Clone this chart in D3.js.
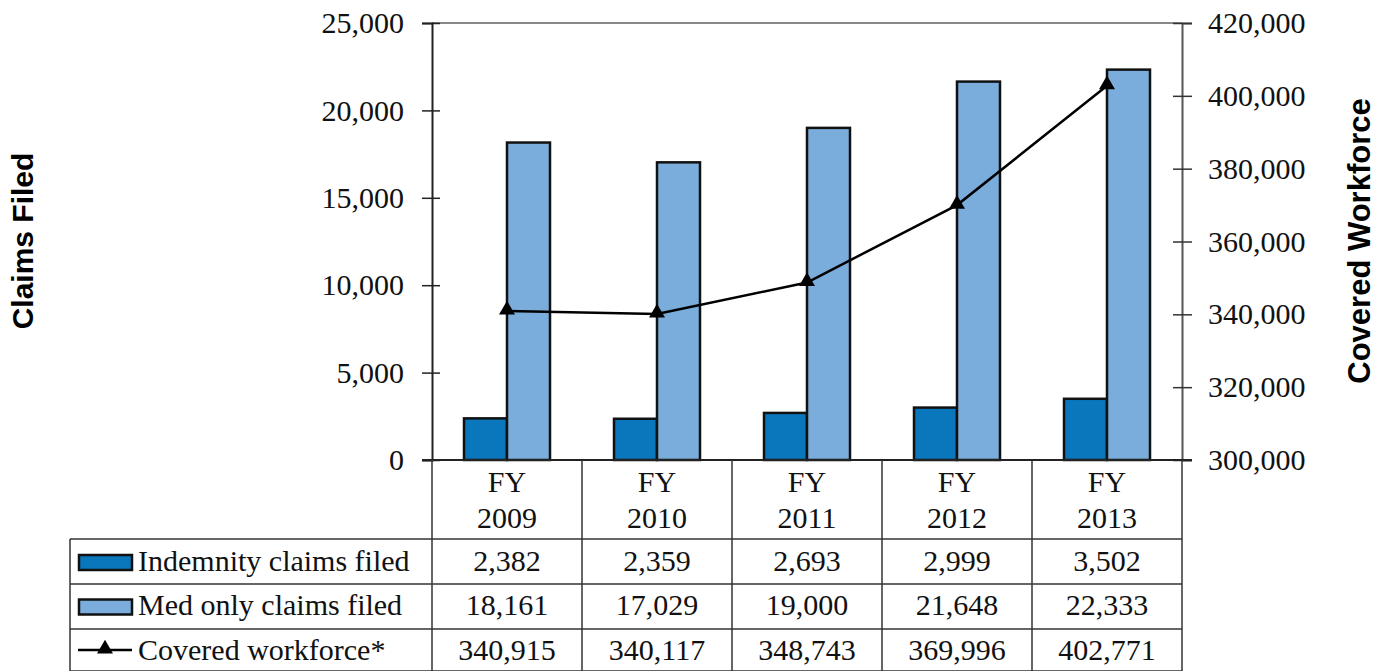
<!DOCTYPE html>
<html>
<head>
<meta charset="utf-8">
<script src="https://cdn.jsdelivr.net/npm/d3@7"></script>
<style>
  body { margin: 0; background: #fff; }
  svg { display: block; }
</style>
</head>
<body>
<div id="chart"></div>
<script>
// Values
const years = ["2009", "2010", "2011", "2012", "2013"];
const indemnity = [2382, 2359, 2693, 2999, 3502];
const medOnly = [18161, 17029, 19000, 21648, 22333];
const workforce = [340915, 340117, 348743, 369996, 402771];

const leftTicks = [0, 5000, 10000, 15000, 20000, 25000];
const rightTicks = [300000, 320000, 340000, 360000, 380000, 400000, 420000];

const seriesNames = ["Indemnity claims filed", "Med only claims filed", "Covered workforce*"];
const barColors = ["#0a77bd", "#7aaddc"];

const W = 1388, H = 671;
const plot = {left: 432, right: 1182, top: 23, bottom: 460};
const serif = "'Liberation Serif', 'Times New Roman', serif";
const sans = "'Liberation Sans', Arial, sans-serif";
const fs = 30;

const svg = d3.select("#chart")
    .append("svg")
    .attr("width", W)
    .attr("height", H);

const x = d3.scaleBand()
    .domain(years)
    .range([plot.left, plot.right]);

const pairW = 86;
const xSub = d3.scaleBand()
    .domain([0, 1])
    .range([(x.bandwidth() - pairW) / 2, (x.bandwidth() + pairW) / 2]);

const yLeft = d3.scaleLinear()
    .domain([0, 25000])
    .range([plot.bottom, plot.top]);

const yRight = d3.scaleLinear()
    .domain([300000, 420000])
    .range([plot.bottom, plot.top]);

// top border of the plot area
svg.append("line")
    .attr("x1", plot.left).attr("x2", plot.right)
    .attr("y1", plot.top).attr("y2", plot.top)
    .attr("stroke", "#888").attr("stroke-width", 2);

// bars
const barData = [];
years.forEach((yr, i) => {
    barData.push({year: yr, s: 0, v: indemnity[i]});
    barData.push({year: yr, s: 1, v: medOnly[i]});
});

svg.append("g")
    .selectAll("rect")
    .data(barData)
    .join("rect")
    .attr("x", (d) => x(d.year) + xSub(d.s))
    .attr("y", (d) => yLeft(d.v))
    .attr("width", xSub.bandwidth())
    .attr("height", (d) => plot.bottom - yLeft(d.v))
    .attr("fill", (d) => barColors[d.s])
    .attr("stroke", "#111")
    .attr("stroke-width", 2.5);

// left axis
svg.append("g")
    .attr("transform", `translate(${plot.left},0)`)
    .call(d3.axisLeft(yLeft).tickValues(leftTicks).tickFormat(d3.format(",")).tickSize(10).tickPadding(18))
    .call((g) => g.select(".domain").attr("stroke", "#222").attr("stroke-width", 2))
    .call((g) => g.selectAll(".tick line").attr("x1", 8).attr("x2", -10).attr("stroke", "#222").attr("stroke-width", 1.5))
    .call((g) => g.selectAll(".tick text")
        .style("font-family", serif).style("font-size", fs + "px").attr("fill", "#111"));

// right axis
svg.append("g")
    .attr("transform", `translate(${plot.right},0)`)
    .call(d3.axisRight(yRight).tickValues(rightTicks).tickFormat(d3.format(",")).tickSize(10).tickPadding(16))
    .call((g) => g.select(".domain").attr("stroke", "#555").attr("stroke-width", 2))
    .call((g) => g.selectAll(".tick line").attr("x1", -9).attr("x2", 10).attr("stroke", "#333").attr("stroke-width", 1.5))
    .call((g) => g.selectAll(".tick text")
        .style("font-family", serif).style("font-size", fs + "px").attr("fill", "#111"));

// baseline
svg.append("line")
    .attr("x1", plot.left - 10).attr("x2", plot.right + 10)
    .attr("y1", plot.bottom).attr("y2", plot.bottom)
    .attr("stroke", "#222").attr("stroke-width", 2);

// workforce line
const line = d3.line()
    .x((d, i) => x(years[i]) + x.bandwidth() / 2)
    .y((d) => yRight(d));

svg.append("path")
    .datum(workforce)
    .attr("d", line)
    .attr("fill", "none")
    .attr("stroke", "#000")
    .attr("stroke-width", 2.5);

const tri = d3.symbol().type(d3.symbolTriangle).size(110);
svg.append("g")
    .selectAll("path")
    .data(workforce)
    .join("path")
    .attr("d", tri)
    .attr("transform", (d, i) => `translate(${x(years[i]) + x.bandwidth() / 2},${yRight(d) - 1})`)
    .attr("fill", "#000");

// axis titles
svg.append("text")
    .attr("transform", "translate(33,241) rotate(-90)")
    .attr("text-anchor", "middle")
    .style("font-family", sans).style("font-size", "30px").style("font-weight", "bold")
    .text("Claims Filed");

svg.append("text")
    .attr("transform", "translate(1370,241) rotate(-90)")
    .attr("text-anchor", "middle")
    .style("font-family", sans).style("font-size", "31px").style("font-weight", "bold")
    .text("Covered Workforce");

// data table
const table = svg.append("g");
const rowLines = [539, 584, 629, 671];
const tableLeft = 70;
const lineColor = "#333";

table.selectAll(".hrow")
    .data(rowLines)
    .join("line")
    .attr("x1", tableLeft).attr("x2", plot.right)
    .attr("y1", (d) => d).attr("y2", (d) => d)
    .attr("stroke", lineColor).attr("stroke-width", 1.5);

const colEdges = years.map((y) => x(y)).concat([plot.right]);
table.selectAll(".vcol")
    .data(colEdges)
    .join("line")
    .attr("x1", (d) => d).attr("x2", (d) => d)
    .attr("y1", plot.bottom).attr("y2", H)
    .attr("stroke", lineColor).attr("stroke-width", 1.5);

table.append("line")
    .attr("x1", tableLeft).attr("x2", tableLeft)
    .attr("y1", rowLines[0]).attr("y2", H)
    .attr("stroke", lineColor).attr("stroke-width", 1.5);

// header: FY / year
const hdr = table.selectAll(".hdr")
    .data(years)
    .join("text")
    .attr("text-anchor", "middle")
    .style("font-family", serif).style("font-size", fs + "px").attr("fill", "#111");
hdr.append("tspan")
    .attr("x", (d) => x(d) + x.bandwidth() / 2).attr("y", 492)
    .text("FY");
hdr.append("tspan")
    .attr("x", (d) => x(d) + x.bandwidth() / 2).attr("y", 528)
    .text((d) => d);

const rows = [indemnity, medOnly, workforce];
const rowBase = [571, 615, 660];
const fmt = d3.format(",");

rows.forEach((vals, r) => {
    table.append("g")
        .selectAll("text")
        .data(vals)
        .join("text")
        .attr("x", (d, i) => x(years[i]) + x.bandwidth() / 2)
        .attr("y", rowBase[r])
        .attr("text-anchor", "middle")
        .style("font-family", serif).style("font-size", fs + "px").attr("fill", "#111")
        .text((d) => fmt(d));

    table.append("text")
        .attr("x", 138)
        .attr("y", rowBase[r])
        .style("font-family", serif).style("font-size", fs + "px").attr("fill", "#111")
        .text(seriesNames[r]);
});

// legend keys
[0, 1].forEach((s) => {
    table.append("rect")
        .attr("x", 79).attr("y", 555 + s * 44.5)
        .attr("width", 53).attr("height", 15)
        .attr("fill", barColors[s])
        .attr("stroke", "#111").attr("stroke-width", 2.5);
});
table.append("line")
    .attr("x1", 78).attr("x2", 132)
    .attr("y1", 650).attr("y2", 650)
    .attr("stroke", "#000").attr("stroke-width", 2.5);
table.append("path")
    .attr("d", tri)
    .attr("transform", "translate(105,649)")
    .attr("fill", "#000");
</script>
</body>
</html>
